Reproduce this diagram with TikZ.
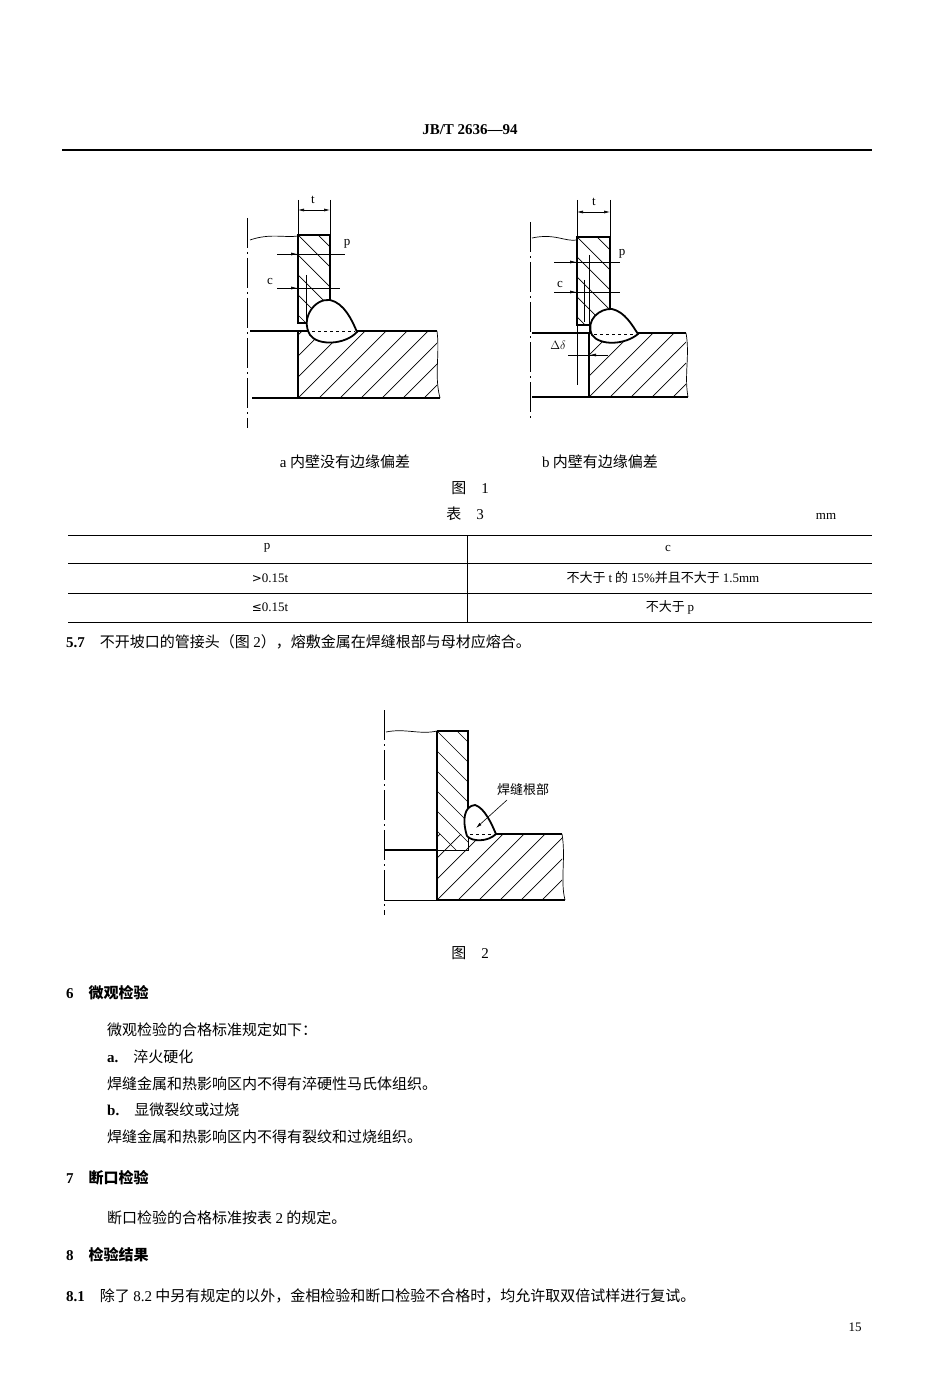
\documentclass[tikz,border=0pt]{standalone}
\usepackage{fontspec}
\setmainfont{Liberation Serif}
\newfontfamily\cjk{Noto Sans CJK SC}
\usetikzlibrary{arrows.meta}
\tikzset{
  thick line/.style={line width=1.8pt},
  thin line/.style={line width=0.7pt},
  hatchl/.style={line width=0.7pt},
  txt/.style={inner sep=0pt,font=\fontsize{15}{18}\selectfont\cjk},
  small/.style={inner sep=0pt,font=\fontsize{13}{16}\selectfont},
  dimarrow/.style={line width=0.6pt,-{Latex[length=6pt,width=3pt]}},
  axis/.style={line width=1pt,dash pattern=on 30pt off 4pt on 2pt off 4pt},
}
\newcommand{\fslash}[5]{% x1 y1 x2 y2 step : "/" hatch
  \begin{scope}\clip (#1,#2) rectangle (#3,#4);
  \foreach \a in {-200,-190,...,200}{\draw[hatchl] ({#1+\a*#5/10},#4) -- ++(200,-200);}
  \end{scope}}
\newcommand{\bslash}[5]{% "\" hatch
  \begin{scope}\clip (#1,#2) rectangle (#3,#4);
  \foreach \a in {-200,-190,...,200}{\draw[hatchl] ({#1+\a*#5/10},#2) -- ++(200,200);}
  \end{scope}}
\newcommand{\lat}[1]{{\fontspec{Liberation Serif}#1}}
\newcommand{\blat}[1]{{\fontspec{Liberation Serif}\bfseries #1}}
\newcommand{\bcjk}[1]{{\cjk\bfseries #1}}
\begin{document}
\begin{tikzpicture}[x=1pt,y=-1pt]
\useasboundingbox (0,0) rectangle (950,1396);
% header
\node[inner sep=0pt,font=\fontsize{15}{18}\selectfont\bfseries] (hdr) at (470,130) {JB/T 2636—94};
\draw[line width=1.2pt] (62,150) -- (872,150);

% ===== Figure 1a =====
\draw[axis] (247,218) -- (247,428);
\fslash{298}{331}{437}{398}{21}
\bslash{298}{235}{330}{323}{20}
\draw[thick line] (298,235) rectangle (330,323);
\draw[thin line] (250,240) .. controls (270,233) and (285,238) .. (298,236);
\draw[thick line] (250,331) -- (437,331);
\draw[thick line] (298,331) -- (298,398);
\draw[thick line] (252,398) -- (440,398);
\draw[thin line] (437,331) .. controls (440,355) and (434,375) .. (440,398);
\draw[thin line] (306,275) -- (306,322);
\path[fill=white,draw=black,thick line] (310,335) .. controls (300,318) and (315,298) .. (330,300)
  .. controls (344,303) and (352,320) .. (357,332) .. controls (345,345) and (318,346) .. (310,335);
\draw[thin line,dashed] (312,331) -- (355,331);
% dims
\draw[thin line] (298,200) -- (298,235) (330,200) -- (330,235);
\draw[dimarrow] (315,210) -- (298,210); \draw[dimarrow] (315,210) -- (330,210);
\node[small] (ta) at (313,200) {t};
\draw[thin line] (277,254) -- (345,254); \draw[dimarrow] (277,254) -- (297,254);
\node[small] (pa) at (347,244) {p};
\draw[thin line] (277,288) -- (340,288); \draw[dimarrow] (277,288) -- (297,288);
\node[small] (ca) at (270,282) {c};

% ===== Figure 1b =====
\draw[axis] (530,222) -- (530,418);
\fslash{589}{333}{686}{397}{21}
\bslash{577}{237}{610}{325}{20}
\draw[thick line] (577,237) rectangle (610,325);
\draw[thin line] (532,238) .. controls (555,233) and (565,242) .. (577,240);
\draw[thick line] (532,333) -- (686,333);
\draw[thick line] (589,333) -- (589,397);
\draw[thick line] (532,397) -- (688,397);
\draw[thin line] (686,333) .. controls (690,355) and (684,375) .. (688,397);
\draw[thin line] (589,255) -- (589,333);
\draw[thin line] (584,280) -- (584,322);
\path[fill=white,draw=black,thick line] (592,335) .. controls (585,320) and (600,308) .. (612,309)
  .. controls (625,312) and (632,325) .. (638,334) .. controls (625,345) and (600,346) .. (592,335);
\draw[thin line,dashed] (594,334) -- (636,334);
\draw[thin line] (577,200) -- (577,385) (610,200) -- (610,237);
\draw[dimarrow] (595,212) -- (577,212); \draw[dimarrow] (595,212) -- (610,212);
\node[small] (tb) at (594,202) {t};
\draw[thin line] (554,262) -- (620,262); \draw[dimarrow] (554,262) -- (576,262);
\node[small] (pb) at (622,254) {p};
\draw[thin line] (554,292) -- (620,292); \draw[dimarrow] (554,292) -- (576,292);
\node[small] (cb) at (560,285) {c};
\draw[thin line] (568,355) -- (608,355); \draw[dimarrow] (608,355) -- (590,355);
\node[small] (dd) at (558,345) {$\Delta\delta$};

% captions
\node[txt] (capa) at (345,462) {\lat{a} 内壁没有边缘偏差};
\node[txt] (capb) at (600,462) {\lat{b} 内壁有边缘偏差};
\node[txt] (f1) at (470,488) {图\quad\lat{1}};
\node[txt] (t3) at (465,514) {表\quad\lat{3}};
\node[small] (mm) at (826,516) {mm};

% table
\draw[line width=1pt] (68,535) -- (872,535);
\draw[thin line] (68,563) -- (872,563);
\draw[thin line] (68,593) -- (872,593);
\draw[line width=1pt] (68,622) -- (872,622);
\draw[thin line] (467,535) -- (467,622);
\node[small] (h1) at (267,548) {p};
\node[small] (h2) at (668,548) {c};
\node[small] (r1) at (270,578) {{\fontspec{DejaVu Sans}\fontsize{12}{14}\selectfont>}0.15t};
\node[txt,font=\fontsize{13}{16}\selectfont\cjk] (r1c) at (663,578) {不大于 \lat{t} 的 \lat{15\%}并且不大于 \lat{1.5mm}};
\node[small] (r2) at (270,607) {{\fontspec{DejaVu Sans}\fontsize{12}{14}\selectfont≤}0.15t};
\node[txt,font=\fontsize{13}{16}\selectfont\cjk] (r2c) at (670,607) {不大于 \lat{p}};

\node[txt,anchor=west] (s57) at (66,642) {\blat{5.7}\quad 不开坡口的管接头（图 \lat{2}），熔敷金属在焊缝根部与母材应熔合。};

% ===== Figure 2 =====
\draw[axis] (384,710) -- (384,915);
\fslash{437}{834}{562}{900}{21}
\bslash{437}{731}{468}{850}{20}
\draw[thick line] (437,731) -- (468,731) -- (468,834) -- (562,834);
\draw[thick line] (437,731) -- (437,900);
\draw[thick line] (437,900) -- (565,900);
\draw[thin line] (384,900) -- (437,900);
\draw[thin line] (386,732) .. controls (405,728) and (420,735) .. (437,731);
\draw[thick line] (384,850) -- (437,850);
\draw[thin line] (437,850) -- (468,850) -- (468,834);
\draw[thin line] (562,834) .. controls (566,858) and (560,880) .. (565,900);
\path[fill=white,draw=black,thick line] (467,836) .. controls (462,820) and (464,806) .. (475,805)
  .. controls (485,808) and (492,825) .. (496,834) .. controls (488,842) and (472,842) .. (467,836);
\draw[thin line,dashed] (470,834) -- (494,834);
\node[txt,font=\fontsize{13}{16}\selectfont\cjk] (root) at (523,790) {焊缝根部};
\draw[dimarrow] (507,800) -- (476,828);
\node[txt] (f2) at (470,953) {图\quad\lat{2}};

% ===== text =====
\begin{scope}[every node/.style={txt,anchor=west}]
\node (s6) at (66,993) {\blat{6}\quad\bcjk{微观检验}};
\node (l1) at (107,1030) {微观检验的合格标准规定如下：};
\node (l2) at (107,1057) {\blat{a.}\quad 淬火硬化};
\node (l3) at (107,1084) {焊缝金属和热影响区内不得有淬硬性马氏体组织。};
\node (l4) at (107,1110) {\blat{b.}\quad 显微裂纹或过烧};
\node (l5) at (107,1137) {焊缝金属和热影响区内不得有裂纹和过烧组织。};
\node (s7) at (66,1178) {\blat{7}\quad\bcjk{断口检验}};
\node (l6) at (107,1218) {断口检验的合格标准按表 \lat{2} 的规定。};
\node (s8) at (66,1255) {\blat{8}\quad\bcjk{检验结果}};
\node (s81) at (66,1296) {\blat{8.1}\quad 除了 \lat{8.2} 中另有规定的以外，金相检验和断口检验不合格时，均允许取双倍试样进行复试。};
\end{scope}
\node[small] (pg) at (855,1327) {15};
\end{tikzpicture}
\end{document}
